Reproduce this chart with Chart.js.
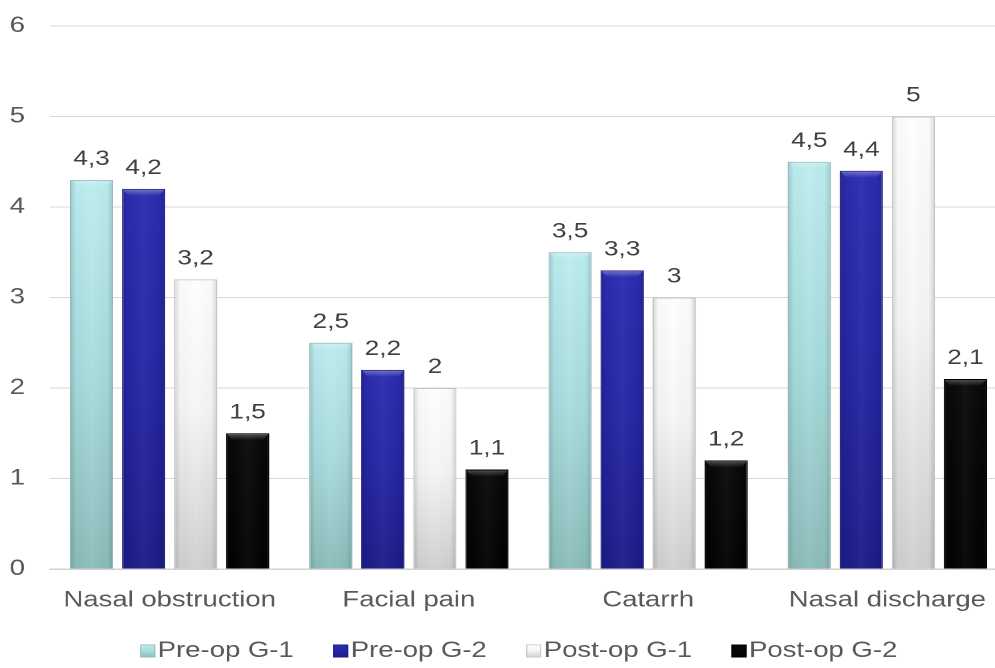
<!DOCTYPE html>
<html>
<head>
<meta charset="utf-8">
<script src="https://cdn.jsdelivr.net/npm/chart.js@4.4.1/dist/chart.umd.min.js"></script>
<style>
  html, body { margin: 0; padding: 0; background: #ffffff; overflow: hidden; width: 995px; height: 668px; }
  /* the chart is laid out narrow and widened, which gives the broad lettering */
  #wrap { position: absolute; left: 0; top: 0; width: 808px; height: 672px; transform: scaleX(1.25); transform-origin: 0 0; }
</style>
</head>
<body>
<div id="wrap"><canvas id="chart" width="808" height="672"></canvas></div>
<script>
// Symptom scores before and after surgery, two groups
const categories = ['Nasal obstruction', 'Facial pain', 'Catarrh', 'Nasal discharge'];
const seriesNames = ['Pre-op G-1', 'Pre-op G-2', 'Post-op G-1', 'Post-op G-2'];
const preOpG1 = [4.3, 2.5, 3.5, 4.5];
const preOpG2 = [4.2, 2.2, 3.3, 4.4];
const postOpG1 = [3.2, 2, 3, 5];
const postOpG2 = [1.5, 1.1, 1.2, 2.1];
const yTicks = [0, 1, 2, 3, 4, 5, 6];

const FONT = '"Liberation Sans", Arial, Helvetica, sans-serif';

// per-series look: vertical gradient stops, flat colour, edge colour, bevel strength
const looks = [
  { stops: [[0, '#bdeef0'], [0.5, '#a9dcdd'], [1, '#8cbdbb']], solid: '#a6dadb', border: '#8fb9b8', bevel: 0.25 },
  { stops: [[0, '#2c2cb0'], [0.5, '#2626a3'], [1, '#1d1d8a']], solid: '#2a2aa6', border: '#1b1b85', bevel: 0.35 },
  { stops: [[0, '#ffffff'], [0.45, '#f6f6f6'], [1, '#d0d0d0']], solid: '#e4e4e4', border: '#c4c4c4', bevel: 0.0 },
  { stops: [[0, '#0a0a0a'], [1, '#030303']], solid: '#111111', border: '#000000', bevel: 0.3 }
];

function barFill(look) {
  return (c) => {
    if (c.type !== 'data') return look.solid;
    const chart = c.chart;
    if (!chart.chartArea || !chart.scales.y) return look.solid;
    const ys = chart.scales.y;
    const top = ys.getPixelForValue(c.parsed.y);
    const bottom = ys.getPixelForValue(0);
    const g = chart.ctx.createLinearGradient(0, top, 0, bottom);
    look.stops.forEach(([o, col]) => g.addColorStop(o, col));
    return g;
  };
}

const seriesValues = [preOpG1, preOpG2, postOpG1, postOpG2];

// side shading, top bevel and the value written above each bar
const barDecor = {
  id: 'barDecor',
  afterDatasetsDraw(chart) {
    const ctx = chart.ctx;
    chart.data.datasets.forEach((ds, di) => {
      const meta = chart.getDatasetMeta(di);
      const look = looks[di];
      meta.data.forEach((bar, i) => {
        const left = bar.x - bar.width / 2;
        const right = bar.x + bar.width / 2;
        const top = bar.y;
        const bottom = bar.base;
        ctx.save();
        const h = ctx.createLinearGradient(left, 0, right, 0);
        h.addColorStop(0, 'rgba(0,0,0,0.16)');
        h.addColorStop(0.14, 'rgba(0,0,0,0.02)');
        h.addColorStop(0.5, 'rgba(255,255,255,0.04)');
        h.addColorStop(0.86, 'rgba(0,0,0,0.02)');
        h.addColorStop(1, 'rgba(0,0,0,0.16)');
        ctx.fillStyle = h;
        ctx.fillRect(left + 1, top + 1, right - left - 2, bottom - top - 1);
        if (look.bevel > 0) {
          const bev = ctx.createLinearGradient(0, top, 0, top + 7);
          bev.addColorStop(0, 'rgba(255,255,255,' + look.bevel + ')');
          bev.addColorStop(1, 'rgba(255,255,255,0)');
          ctx.fillStyle = bev;
          ctx.beginPath();
          ctx.moveTo(left + 1, top + 1);
          ctx.lineTo(right - 1, top + 1);
          ctx.lineTo(right - 5, top + 7);
          ctx.lineTo(left + 5, top + 7);
          ctx.closePath();
          ctx.fill();
        }
        ctx.restore();

        const v = ds.data[i];
        ctx.save();
        ctx.font = '21px ' + FONT;
        ctx.fillStyle = '#404040';
        ctx.textAlign = 'center';
        ctx.textBaseline = 'alphabetic';
        ctx.fillText(String(v).replace('.', ','), bar.x, top - 15);
        ctx.restore();
      });
    });
  }
};

// legend row under the axis: small shaded square tight against each series name
const legendRow = {
  id: 'legendRow',
  afterDraw(chart) {
    const ctx = chart.ctx;
    const box = 12, boxH = 13, gapText = 2, gapItem = 31.6;
    const y = chart.chartArea.bottom + 82;
    ctx.save();
    ctx.font = '22px ' + FONT;
    ctx.textBaseline = 'middle';
    ctx.textAlign = 'left';
    const names = chart.data.datasets.map(d => d.label);
    const widths = names.map(n => ctx.measureText(n).width);
    const rowW = widths.reduce((a, w) => a + box + gapText + w, 0) + gapItem * (names.length - 1);
    let x = chart.width / 2 + 11 - rowW / 2;
    names.forEach((name, k) => {
      const look = looks[k];
      const g = ctx.createLinearGradient(0, y - boxH / 2, 0, y + boxH / 2);
      look.stops.forEach(([o, col]) => g.addColorStop(o, col));
      ctx.fillStyle = g;
      ctx.fillRect(x, y - boxH / 2, box, boxH);
      ctx.strokeStyle = look.border;
      ctx.lineWidth = 0.8;
      ctx.strokeRect(x + 0.4, y - boxH / 2 + 0.4, box - 0.8, boxH - 0.8);
      ctx.fillStyle = '#595959';
      ctx.fillText(name, x + box + gapText, y);
      x += box + gapText + widths[k] + gapItem;
    });
    ctx.restore();
  }
};

new Chart(document.getElementById('chart'), {
  type: 'bar',
  data: {
    labels: categories,
    datasets: seriesValues.map((vals, k) => ({
      label: seriesNames[k],
      data: vals,
      backgroundColor: barFill(looks[k]),
      borderColor: looks[k].border,
      borderWidth: 1,
      borderSkipped: 'bottom',
      categoryPercentage: 0.87,
      barPercentage: 0.83
    }))
  },
  options: {
    responsive: false,
    animation: false,
    devicePixelRatio: 2,
    layout: { padding: { top: 26, left: 0, right: 2.4, bottom: 53 } },
    scales: {
      x: {
        grid: { display: false, drawTicks: false },
        border: { display: true, color: '#d2d2d2', width: 1.5 },
        ticks: { color: '#595959', font: { family: FONT, size: 22 }, padding: 18, maxRotation: 0, autoSkip: false },
        afterFit(scale) { scale.height = 50; }
      },
      y: {
        min: yTicks[0],
        max: yTicks[yTicks.length - 1],
        afterBuildTicks(scale) { scale.ticks = yTicks.map(v => ({ value: v })); },
        grid: { color: '#d9d9d9', lineWidth: 1, drawTicks: false },
        border: { display: false },
        ticks: { color: '#595959', font: { family: FONT, size: 22 }, padding: 20, autoSkip: false },
        afterFit(scale) {
          scale.width = 40;
          scale.paddingTop = 0;
          scale.paddingBottom = 0;
        }
      }
    },
    plugins: {
      legend: { display: false },
      tooltip: { enabled: false }
    }
  },
  plugins: [barDecor, legendRow]
});
</script>
</body>
</html>
